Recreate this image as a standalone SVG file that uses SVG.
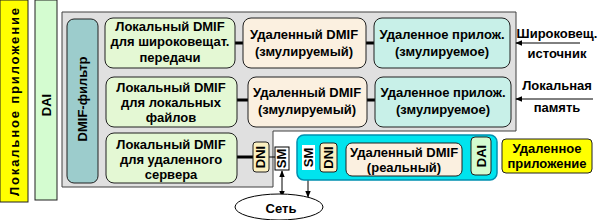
<svg xmlns="http://www.w3.org/2000/svg" width="600" height="220" viewBox="0 0 600 220">
<defs>
<style>
text{font-family:"Liberation Sans",Arial,sans-serif;font-weight:bold;font-size:13px;fill:#000;text-anchor:middle}
.loc{fill:#e4f8d4;stroke:#202020;stroke-width:1}
.rem{fill:#fbf0e0;stroke:#202020;stroke-width:1}
.app{fill:#c8f0e8;stroke:#202020;stroke-width:1}
.dni{fill:#fbf0c0;stroke:#202020;stroke-width:1}
.thick{stroke:#000;stroke-width:3;fill:none}
.thin{stroke:#000;stroke-width:1;fill:none}
</style>
<marker id="ah" viewBox="0 0 10 10" refX="9" refY="5" markerWidth="7" markerHeight="7" orient="auto-start-reverse"><path d="M0,1 L10,5 L0,9 z" fill="#000"/></marker>
</defs>
<g id="local-app"><rect x="0" y="0" width="28" height="202" fill="#ffff00" stroke="#202020"/><text transform="translate(19,102) rotate(-90)" font-size="15" textLength="188" lengthAdjust="spacing">Локальное приложение</text></g>
<g id="dai-left"><rect x="35" y="0" width="22" height="200" fill="#d4fcd0" stroke="#202020"/><text transform="translate(51,105) rotate(-90)" font-size="14">DAI</text></g>
<g id="grey-area"><path d="M62,12 H516 V131 H273 V187 H62 Z" fill="#e0e0e0" stroke="#404040"/></g>
<g id="dmif-filter"><rect x="67" y="19" width="31" height="164" rx="7" fill="#9ccccc" stroke="#202020"/><text transform="translate(87,99) rotate(-90)" font-size="13">DMIF-фильтр</text></g>
<g id="connectors">
<line class="thick" x1="235" y1="43" x2="243" y2="43"/>
<line class="thick" x1="366" y1="43" x2="374" y2="43"/>
<line class="thick" x1="237" y1="100" x2="248" y2="100"/>
<line class="thick" x1="367" y1="100" x2="375" y2="100"/>
<line class="thick" x1="237" y1="157" x2="253" y2="157"/>
<line class="thin" x1="269" y1="157" x2="275" y2="157"/>
<line stroke="#e0ffff" stroke-width="1.5" x1="315" y1="157" x2="471" y2="157"/>
<line class="thin" x1="580" y1="43" x2="516" y2="43" marker-end="url(#ah)"/>
<line class="thin" x1="593" y1="99" x2="516" y2="99" marker-end="url(#ah)"/>
<line class="thin" x1="282" y1="171" x2="282" y2="197" marker-start="url(#ah)" marker-end="url(#ah)"/>
<line class="thin" x1="308" y1="171" x2="308" y2="197" marker-start="url(#ah)" marker-end="url(#ah)"/>
</g>
<g id="local-dmif-1"><rect class="loc" x="105" y="18" width="130" height="50" rx="8"/><text x="170" y="31">Локальный DMIF</text><text x="170" y="46">для широковещат.</text><text x="170" y="62">передачи</text></g>
<g id="local-dmif-2"><rect class="loc" x="106" y="77" width="131" height="50" rx="8"/><text x="171" y="92">Локальный DMIF</text><text x="171" y="107">для локальных</text><text x="171" y="122">файлов</text></g>
<g id="local-dmif-3"><rect class="loc" x="106" y="133" width="131" height="50" rx="8"/><text x="171" y="149">Локальный DMIF</text><text x="171" y="164">для удаленного</text><text x="171" y="179">сервера</text></g>
<g id="remote-dmif-1"><rect class="rem" x="243" y="18" width="123" height="50" rx="8"/><text x="304" y="39">Удаленный DMIF</text><text x="304" y="56">(змулируемый)</text></g>
<g id="remote-dmif-2"><rect class="rem" x="248" y="77" width="119" height="50" rx="8"/><text x="307" y="97">Удаленный DMIF</text><text x="307" y="114">(змулируемый)</text></g>
<g id="remote-app-1"><rect class="app" x="374" y="18" width="136" height="50" rx="8"/><text x="442" y="39">Удаленное прилож.</text><text x="442" y="56">(змулируемое)</text></g>
<g id="remote-app-2"><rect class="app" x="375" y="77" width="136" height="50" rx="8"/><text x="443" y="97">Удаленное прилож.</text><text x="443" y="114">(змулируемое)</text></g>
<g id="src-broadcast"><text x="557" y="38">Широковещ.</text><text x="557" y="58">источник</text></g>
<g id="src-local"><text x="557" y="90">Локальная</text><text x="557" y="112">память</text></g>
<g id="dni-local"><rect class="dni" x="253" y="142" width="16" height="30" rx="3"/><text transform="translate(265,157) rotate(-90)" font-size="11">DNI</text></g>
<g id="sm-local"><rect x="275" y="147" width="14" height="23" fill="#fff" stroke="#000"/><text transform="translate(286,158.5) rotate(-90)" font-size="10">SM</text></g>
<g id="remote-side"><rect x="297" y="135" width="200" height="45" rx="7" fill="#00e4ee" stroke="#0090b0" stroke-width="1.5"/></g>
<g id="sm-remote"><rect x="302" y="145" width="13" height="25" fill="#fff" stroke="none"/><text transform="translate(312.5,157.5) rotate(-90)" font-size="10">SM</text></g>
<g id="dni-remote"><rect class="dni" x="320" y="143" width="17" height="29" rx="3"/><text transform="translate(332.5,157.5) rotate(-90)" font-size="11">DNI</text></g>
<g id="remote-dmif-real"><rect class="rem" x="346" y="143" width="116" height="33" rx="6"/><text x="404" y="157">Удаленный DMIF</text><text x="404" y="172">(реальный)</text></g>
<g id="dai-remote"><rect x="471" y="137" width="20" height="38" rx="4" fill="#d4fcd0" stroke="#202020"/><text transform="translate(486,156) rotate(-90)" font-size="12">DAI</text></g>
<g id="remote-app"><rect x="502" y="139" width="90" height="34" rx="4" fill="#ffff00" stroke="#202020"/><text x="547" y="153">Удаленное</text><text x="547" y="168">приложение</text></g>
<g id="network"><ellipse cx="279" cy="207" rx="44" ry="13" fill="#fff" stroke="#000"/><text x="281" y="213">Сеть</text></g>
</svg>
